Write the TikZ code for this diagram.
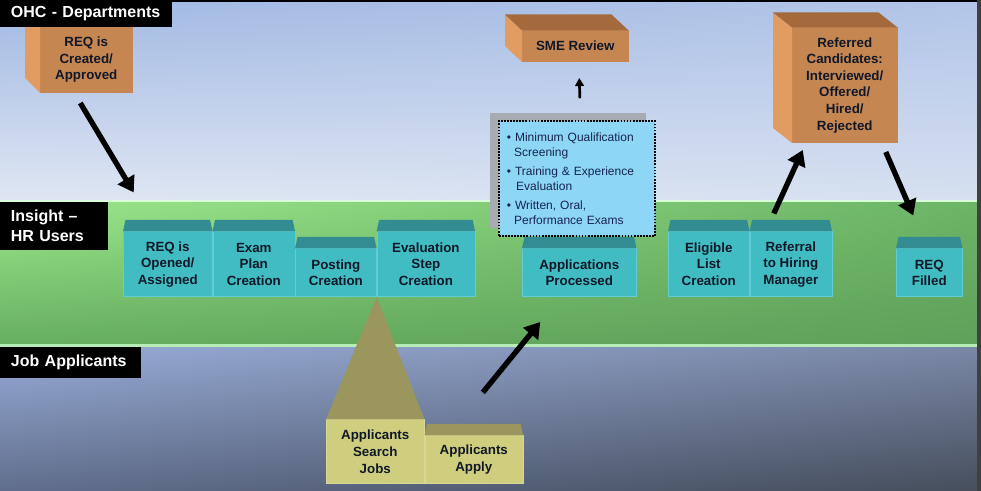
\documentclass[tikz,border=0pt]{standalone}
\usepackage{fontspec}
\setmainfont{Liberation Sans}
\usepackage{tikz}
\usetikzlibrary{arrows.meta, positioning, shadings}
\definecolor{ohcUL}{RGB}{160,184,226}
\definecolor{ohcUR}{RGB}{178,197,232}
\definecolor{ohcLL}{RGB}{224,231,243}
\definecolor{ohcLR}{RGB}{214,224,240}
\definecolor{hrUL}{RGB}{156,232,140}
\definecolor{hrUR}{RGB}{108,180,102}
\definecolor{hrLL}{RGB}{102,174,96}
\definecolor{hrLR}{RGB}{94,160,90}
\definecolor{jobUL}{RGB}{152,172,216}
\definecolor{jobUR}{RGB}{122,136,166}
\definecolor{jobLL}{RGB}{96,110,140}
\definecolor{jobLR}{RGB}{70,78,92}
\definecolor{hrfront}{RGB}{64,188,194}
\definecolor{hrtop}{RGB}{50,140,146}
\definecolor{hrline}{RGB}{96,206,210}
\definecolor{appfront}{RGB}{206,206,126}
\definecolor{apptop}{RGB}{154,150,94}
\definecolor{ohcfront}{RGB}{198,134,82}
\definecolor{ohcside}{RGB}{226,156,98}
\definecolor{ohctop}{RGB}{164,106,62}
\definecolor{infofill}{RGB}{142,214,245}
\definecolor{infoshadow}{RGB}{168,171,178}
\definecolor{boxtext}{RGB}{16,24,40}
\definecolor{infotext}{RGB}{22,36,80}

\begin{document}
\begin{tikzpicture}[
    x=0.75pt, y=-0.75pt,
    lane/.style={fill=black, text=white, anchor=north west, align=left,
                 inner xsep=8pt, inner ysep=0pt,
                 font=\bfseries\fontsize{12}{15}\selectfont},
    hrbox/.style={fill=hrfront, draw=hrline, line width=0.4pt, inner sep=0pt,
                  align=center, text=boxtext, anchor=south west,
                  minimum height=48.75pt,
                  font=\bfseries\fontsize{10}{12.4}\selectfont},
    appbox/.style={hrbox, fill=appfront, draw=appfront!80!white},
    ohcbox/.style={hrbox, fill=ohcfront, draw=ohcfront},
    low/.style={minimum height=36pt},
    bigarr/.style={-{Triangle[length=11.5pt,width=14pt]}, line width=4pt},
    smallarr/.style={-{Triangle[length=6pt,width=6.5pt]}, line width=2pt}
  ]
    \useasboundingbox (0,0) rectangle (981,491);
    % swim lanes
    \shade[upper left=ohcUL, upper right=ohcUR, lower left=ohcLL, lower right=ohcLR]
      (0,0) rectangle (981,201);
    \shade[upper left=hrUL, upper right=hrUR, lower left=hrLL, lower right=hrLR]
      (0,201) rectangle (981,346);
    \shade[upper left=jobUL, upper right=jobUR, lower left=jobLL, lower right=jobLR]
      (0,346) rectangle (981,491);
    \fill[white!85!green] (0,200) rectangle (981,202);
    \fill[green!25!white!85!gray] (0,344.5) rectangle (981,347);
    \fill[black] (0,0) rectangle (981,2);
    \fill[black!75] (977,0) rectangle (981,491);

    % HR users boxes
    \node[hrbox, minimum width=66.75pt] (opened) at (123,297) {REQ is\\Opened/\\Assigned};
    \node[hrbox, minimum width=61.5pt, at=(opened.south east)] (exam) {Exam\\Plan\\Creation};
    \node[hrbox, low, minimum width=60.75pt, at=(exam.south east)] (posting) {Posting\\Creation};
    \node[hrbox, minimum width=73.5pt, at=(posting.south east)] (evalstep) {Evaluation\\Step\\Creation};
    \node[hrbox, low, minimum width=85.5pt] (processed) at (522,297) {Applications\\Processed};
    \node[hrbox, minimum width=60.75pt] (eligible) at (668,297) {Eligible\\List\\Creation};
    \node[hrbox, minimum width=61.5pt, at=(eligible.south east)] (referral) {Referral\\to Hiring\\Manager};
    \node[hrbox, low, minimum width=49.5pt] (filled) at (896,297) {REQ\\Filled};

    % applicant boxes
    \node[appbox, minimum width=73.5pt, minimum height=48pt] (search) at (326,484) {Applicants\\Search\\Jobs};
    \node[appbox, low, minimum width=73.5pt, at=(search.south east)] (apply) {Applicants\\Apply};

    % department boxes
    \node[ohcbox, minimum width=69pt, minimum height=49.5pt] (created) at (40,93) {REQ is\\Created/\\Approved};
    \node[ohcbox, minimum width=79.5pt, minimum height=23.25pt] (sme) at (522,62) {SME Review};
    \node[ohcbox, minimum width=78.75pt, minimum height=86.25pt] (referred) at (792,143)
      {Referred\\Candidates:\\Interviewed/\\Offered/\\Hired/\\Rejected};

    % box tops and sides
    \foreach \b/\c in {opened/hrtop, exam/hrtop, posting/hrtop, evalstep/hrtop,
                       processed/hrtop, eligible/hrtop, referral/hrtop, filled/hrtop, apply/apptop}
      \fill[\c] (\b.north west) -- ([shift={(2.5,-11.5)}]\b.north west)
        -- ([shift={(-2.5,-11.5)}]\b.north east) -- (\b.north east) -- cycle;
    \foreach \b/\dx/\dy in {created/15/15, sme/17/16, referred/19/15} {
      \fill[ohcside] (\b.north west) -- ([shift={(-\dx,-\dy)}]\b.north west)
        -- ([shift={(-\dx,-\dy)}]\b.south west) -- (\b.south west) -- cycle;
      \fill[ohctop] (\b.north west) -- ([shift={(-\dx,-\dy)}]\b.north west)
        -- ([shift={(-\dx,-\dy)}]\b.north east) -- (\b.north east) -- cycle;
    }
    \fill[apptop] (evalstep.south west) -- (search.north west) -- (search.north east) -- cycle;

    % evaluation steps
    \fill[infoshadow] (490,113) rectangle (646,228);
    \node[fill=infofill, draw=black, densely dotted, line width=1.3pt, anchor=south west,
          minimum width=117pt, minimum height=86.25pt, text width=105pt, inner xsep=6pt,
          align=left, text=infotext, font=\fontsize{9}{11.2}\selectfont] (info) at (498,237)
      {\textbullet\ Minimum Qualification\\\hspace*{5.5pt}Screening\\[3pt]
       \textbullet\ Training \& Experience\\\hspace*{7pt}Evaluation\\[3pt]
       \textbullet\ Written, Oral,\\\hspace*{5.5pt}Performance Exams};

    % flow
    \draw[bigarr] ([shift={(-6,10)}]created.south) -- ([shift={(-34,-39)}]opened.north);
    \draw[smallarr] ([shift={(3,-22)}]info.north) -- ([shift={(4,16)}]sme.south);
    \draw[bigarr] ([shift={(9,-43)}]apply.north) -- ([shift={(-39,25)}]processed.south);
    \draw[bigarr] ([shift={(-17,-18)}]referral.north) -- ([shift={(-42,7)}]referred.south);
    \draw[bigarr] ([shift={(41,9)}]referred.south) -- ([shift={(-16,-33)}]filled.north);

    % lane labels
    \node[lane, text width=113pt, minimum height=20.25pt] (ohc) at (0,0) {OHC - Departments};
    \node[lane, text width=65pt, minimum height=36pt] (insight) at (0,202) {Insight –\\HR Users};
    \node[lane, text width=89.75pt, minimum height=23.25pt] (job) at (0,347) {Job Applicants};
  \end{tikzpicture}
\end{document}
